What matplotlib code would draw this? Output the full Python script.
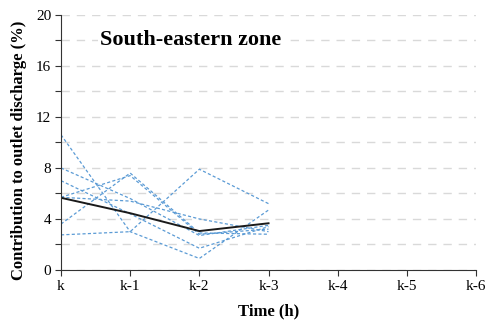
import matplotlib.pyplot as plt

# time steps back from the outlet
labels = ['k', 'k-1', 'k-2', 'k-3', 'k-4', 'k-5', 'k-6']
steps = [0, 1, 2, 3]

# individual events (dashed blue)
ev1 = [10.6, 3.0, 0.9, 4.7]
ev2 = [2.75, 3.0, 7.9, 5.2]
ev3 = [3.6, 7.6, 2.9, 2.8]
ev4 = [5.7, 7.4, 2.8, 3.2]
ev5 = [5.7, 5.4, 4.0, 3.0]
ev6 = [8.0, 5.6, 2.7, 3.5]
ev7 = [7.0, 4.4, 1.7, 3.4]
events = [ev1, ev2, ev3, ev4, ev5, ev6, ev7]

# average line (solid black)
avg = [5.66, 4.45, 3.05, 3.66]

plt.rcParams['font.family'] = ['Liberation Serif', 'DejaVu Serif']

fig = plt.figure(figsize=(4.9, 3.26), dpi=100)
ax = fig.add_axes([0.1245, 0.172, 0.847, 0.782])

for ev in events:
    ax.plot(steps, ev, color='#5B9BD5', lw=0.9, ls=(0, (2.5, 1.8)))
ax.plot(steps, avg, color='#1a1a1a', lw=1.4)

ax.set_xlim(0, 6)
ax.set_ylim(0, 20)
ax.set_xticks(range(len(labels)))
ax.set_xticklabels(labels, fontsize=11)
ax.set_yticks(range(0, 21, 2))
ax.set_yticklabels([str(v) if v % 4 == 0 else '' for v in range(0, 21, 2)], fontsize=11)
ax.grid(axis='y', color='#d9d9d9', ls=(0, (6, 5)), lw=1)
ax.set_axisbelow(True)
for s in ['top', 'right']:
    ax.spines[s].set_visible(False)
ax.spines['left'].set_color('#333333')
ax.spines['bottom'].set_color('#333333')
ax.tick_params(length=4, color='#333333', pad=3)

ax.set_xlabel('Time (h)', fontsize=12, fontweight='bold', labelpad=8)
ax.set_ylabel('Contribution to outlet discharge (%)', fontsize=12, fontweight='bold')
ax.yaxis.set_label_coords(-0.082, 0.47)

ax.text(1.88, 18.0, 'South-eastern zone', fontsize=16, fontweight='bold',
        ha='center', va='center', bbox=dict(fc='white', ec='none', pad=2))

fig.savefig('out.png', dpi=100)
